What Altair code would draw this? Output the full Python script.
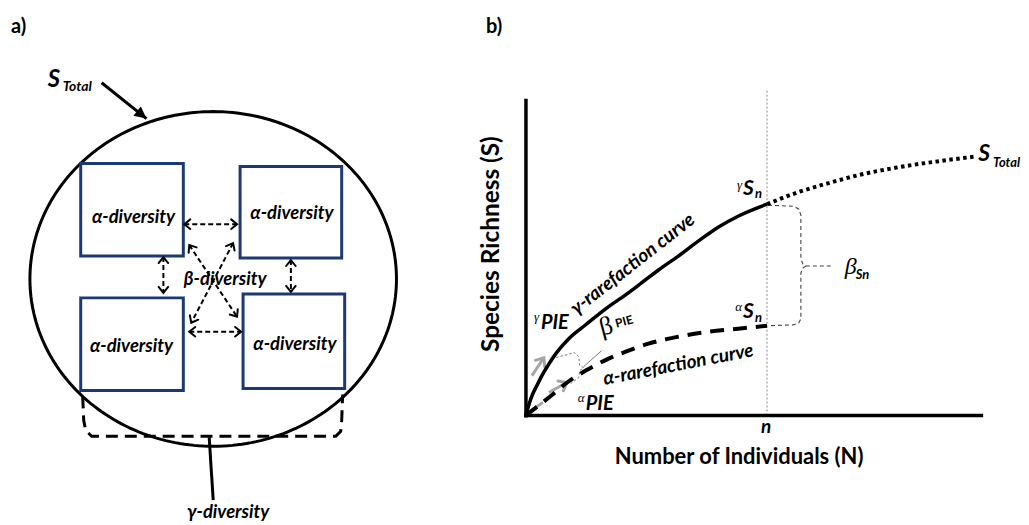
import numpy as np
import pandas as pd
import altair as alt

SANS = "Lato"
SERIF = "Liberation Serif"
NAVY = "#1B3A75"
GREY = "#A6A6A6"

# ======================= panel a : diagram units (circle centred on 0,0) =======================
circle_rx = 184
circle_ry = 168

box_x1 = [-133, 27, -133, 30]
box_x2 = [-30, 129, -30, 132]
box_y1 = [23, 21, -112, -110]
box_y2 = [116, 113, -19, -15]
alpha_lab_x = [-80, 79, -82, 82]
alpha_lab_y = [62, 66, -67, -65]

# dashed double arrows between the plots (start x, start y, end x, end y)
arr_x1 = [-29, -24, -50, 78, -24, 20]
arr_y1 = [55, -53, 22, 19, 34, 36]
arr_x2 = [24, 28, -50, 78, 24, -22]
arr_y2 = [55, -53, -14, -13, -38, -44]

# arrow pointing at the circle (S_Total)
stot_arrow_x = [-112, -67]
stot_arrow_y = [197, 161]

# gamma dashed outline and its leader
gbox_x = [-131, -130, -128, -122, 123, 128, 129, 130]
gbox_y = [-118, -142, -152, -158, -158, -153, -142, -116]
glead_x = [-4, 0]
glead_y = [-159, -222]

# ======================= panel b : N individuals / S species =======================
axis_N = [0, 459]
axis_S = [0, 318]
n_value = 242
n_line_top = 328

gamma_N = [0, 3, 7, 11, 16, 22, 30, 43, 60, 80, 100, 116, 133, 153, 173, 193, 213, 242]
gamma_S = [0, 11, 22, 30, 40, 50, 62, 77, 91, 107, 121, 133, 146, 160, 175, 189, 200, 212]

extrap_N = [242, 273, 303, 333, 373, 413, 452]
extrap_S = [212, 224, 233, 241, 249, 255, 260]

alpha_N = [0, 13, 28, 40, 60, 83, 103, 123, 153, 183, 213, 242]
alpha_S = [0, 10, 22, 32, 45, 57, 65, 72, 79, 84, 87, 90]

beta_sn_N = [243, 269, 274, 276, 276, 278, 281, 278, 276, 276, 274, 269, 243]
beta_sn_S = [211, 210, 207, 201, 157, 152, 150, 148, 143, 97, 93, 91, 90]
beta_sn_tick_N = [281, 306]
beta_sn_tick_S = [150, 150]

beta_pie_N = [26, 49, 53, 54, 58, 54, 53, 45]
beta_pie_S = [57, 63, 59, 50, 48, 45, 38, 32]
beta_pie_lead_N = [58, 76]
beta_pie_lead_S = [49, 65]

grey_arrow_N1 = [6, 18]
grey_arrow_S1 = [40, 58]
grey_arrow_N2 = [23, 41]
grey_arrow_S2 = [23, 33]
grey_tail_N = [2, 17]
grey_tail_S = [3, 13]

# ======================= helpers =======================
XA = alt.Scale(domain=[-205, 265], nice=False, zero=False)
YA = alt.Scale(domain=[-239, 270], nice=False, zero=False)
XB = alt.Scale(domain=[-49, 494], nice=False, zero=False)
YB = alt.Scale(domain=[-102, 407], nice=False, zero=False)


def enc(panel):
    if panel == "a":
        return alt.X("x:Q", scale=XA, axis=None), alt.Y("y:Q", scale=YA, axis=None)
    return alt.X("x:Q", scale=XB, axis=None), alt.Y("y:Q", scale=YB, axis=None)


def path(panel, segs, **mk):
    rows = []
    for k, (xs, ys) in enumerate(segs):
        for i, (xv, yv) in enumerate(zip(xs, ys)):
            rows.append({"x": float(xv), "y": float(yv), "i": i, "seg": k})
    X, Y = enc(panel)
    return alt.Chart(pd.DataFrame(rows)).mark_line(**mk).encode(
        x=X, y=Y, order="i:Q", detail="seg:N")


def text(panel, xs, ys, labels, size, weight="bold", style="italic", font=SANS,
         align="center", baseline="middle", angle=0, color="black"):
    X, Y = enc(panel)
    df = pd.DataFrame({"x": xs, "y": ys, "t": labels})
    return alt.Chart(df).mark_text(
        font=font, fontSize=size, fontWeight=weight, fontStyle=style,
        align=align, baseline=baseline, angle=angle, color=color
    ).encode(x=X, y=Y, text="t:N")


CHEV = "M-1,-0.8L0,0L-1,0.8"
TRI = "M0,0L-1,-0.5L-1,0.5Z"


def heads(panel, shafts, shape, size, color="black", width=2, filled=False, both=False):
    hx, hy, ha = [], [], []
    for xs, ys in shafts:
        ends = [(xs[0], ys[0], xs[1], ys[1])]
        if both:
            ends.append((xs[1], ys[1], xs[0], ys[0]))
        for sx, sy, ex, ey in ends:
            hx.append(ex)
            hy.append(ey)
            ha.append(float(np.degrees(np.arctan2(-(ey - sy), ex - sx)) % 360))
    X, Y = enc(panel)
    df = pd.DataFrame({"x": hx, "y": hy, "ang": ha})
    props = dict(shape=shape, size=size, opacity=1, strokeWidth=width)
    if filled:
        props.update(filled=True, color=color)
    else:
        props.update(filled=False, color=color, strokeCap="round", strokeJoin="miter")
    return alt.Chart(df).mark_point(**props).encode(
        x=X, y=Y, angle=alt.Angle("ang:Q", scale=None))


# ======================= panel a layers =======================
theta = np.linspace(0, 2 * np.pi, 241)
circle_layer = path("a", [(circle_rx * np.cos(theta), circle_ry * np.sin(theta))],
                    color="black", strokeWidth=3)

XA_, YA_ = enc("a")
boxes = alt.Chart(pd.DataFrame({"x": box_x1, "x2": box_x2, "y": box_y1, "y2": box_y2})).mark_rect(
    fill="white", stroke=NAVY, strokeWidth=3
).encode(x=XA_, x2="x2:Q", y=YA_, y2="y2:Q")

arrow_segs = [([a, c], [b, d]) for a, b, c, d in zip(arr_x1, arr_y1, arr_x2, arr_y2)]
arrow_shafts = path("a", arrow_segs, color="black", strokeWidth=2, strokeDash=[5, 3])
arrow_heads = heads("a", arrow_segs, CHEV, 144, width=2, both=True)

stot_shaft = path("a", [(stot_arrow_x, stot_arrow_y)], color="black", strokeWidth=3)
stot_head = heads("a", [(stot_arrow_x, stot_arrow_y)], TRI, 576, filled=True)

gbox = path("a", [(gbox_x, gbox_y)], color="black", strokeWidth=3, strokeDash=[12, 7])
glead = path("a", [(glead_x, glead_y)], color="black", strokeWidth=3)

layers_a = [
    circle_layer, boxes, arrow_shafts, arrow_heads, stot_shaft, stot_head, gbox, glead,
    text("a", alpha_lab_x, alpha_lab_y, ["α-diversity"] * 4, 18.5),
    text("a", [12], [0], ["β-diversity"], 18.5),
    text("a", [15], [-234], ["γ-diversity"], 18.5),
    text("a", [-166], [193], ["S"], 24, align="left", baseline="alphabetic"),
    text("a", [-151], [189], ["Total"], 14, align="left", baseline="alphabetic"),
    text("a", [-203], [247], ["a)"], 20, style="normal", align="left", baseline="alphabetic"),
]
panel_a = alt.layer(*layers_a).properties(width=470, height=509)

# ======================= panel b layers =======================
axes_b = path("b", [([0, 0], [-2, axis_S[1]]), ([-2, axis_N[1]], [0, 0])],
              color="black", strokeWidth=3.5)
n_line = path("b", [([n_value, n_value], [0, n_line_top])], color="#888888",
              strokeWidth=1, strokeDash=[2, 2])
gamma_curve = path("b", [(gamma_N, gamma_S)], color="black", strokeWidth=3.5,
                   interpolate="monotone")
extrap_curve = path("b", [(extrap_N, extrap_S)], color="black", strokeWidth=4,
                    strokeDash=[3.5, 3.5], interpolate="monotone")
alpha_curve = path("b", [(alpha_N, alpha_S)], color="black", strokeWidth=4,
                   strokeDash=[14, 9], interpolate="monotone")
beta_sn = path("b", [(beta_sn_N, beta_sn_S), (beta_sn_tick_N, beta_sn_tick_S)],
               color="#444444", strokeWidth=1.1, strokeDash=[4, 3])
beta_pie = path("b", [(beta_pie_N, beta_pie_S)], color="#777777", strokeWidth=1,
                strokeDash=[2.5, 2])
beta_pie_lead = path("b", [(beta_pie_lead_N, beta_pie_lead_S)], color="#777777", strokeWidth=1)
grey_segs = [(grey_arrow_N1, grey_arrow_S1), (grey_arrow_N2, grey_arrow_S2)]
grey_shafts = path("b", grey_segs + [(grey_tail_N, grey_tail_S)], color=GREY, strokeWidth=3)
grey_heads = heads("b", grey_segs, CHEV, 196, color=GREY, width=3)

layers_b = [
    n_line, beta_sn, beta_pie, beta_pie_lead, grey_shafts, grey_heads,
    gamma_curve, extrap_curve, alpha_curve, axes_b,
    text("b", [-40], [384], ["b)"], 20, style="normal", align="left", baseline="alphabetic"),
    text("b", [-34], [172], ["Species Richness (S)"], 24.5, style="normal", angle=270),
    text("b", [214], [-42], ["Number of Individuals (N)"], 22, style="normal"),
    text("b", [241], [-12], ["n"], 19),
    text("b", [107], [152], ["γ-rarefaction curve"], 19, angle=322),
    text("b", [153], [51], ["α-rarefaction curve"], 19, angle=349),
    # gamma S_n
    text("b", [212], [227], ["γ"], 13, weight="normal", font=SERIF, align="left", baseline="alphabetic"),
    text("b", [218], [221], ["S"], 21, align="left", baseline="alphabetic"),
    text("b", [230], [218], ["n"], 13, align="left", baseline="alphabetic"),
    # alpha S_n
    text("b", [210], [105], ["α"], 13, weight="normal", font=SERIF, align="left", baseline="alphabetic"),
    text("b", [218], [98], ["S"], 21, align="left", baseline="alphabetic"),
    text("b", [230], [94], ["n"], 13, align="left", baseline="alphabetic"),
    # S_Total
    text("b", [454], [255], ["S"], 23, align="left", baseline="alphabetic"),
    text("b", [469], [249], ["Total"], 13, align="left", baseline="alphabetic"),
    # beta S_n
    text("b", [320], [142], ["β"], 24, weight="normal", font=SERIF, align="left", baseline="alphabetic"),
    text("b", [331], [137], ["Sn"], 13, align="left", baseline="alphabetic"),
    # gamma PIE / alpha PIE
    text("b", [8], [95], ["γ"], 13, weight="normal", font=SERIF, align="left", baseline="alphabetic"),
    text("b", [15], [87], ["PIE"], 20, align="left", baseline="alphabetic"),
    text("b", [52], [13], ["α"], 13, weight="normal", font=SERIF, align="left", baseline="alphabetic"),
    text("b", [60], [5], ["PIE"], 20, align="left", baseline="alphabetic"),
    # beta PIE
    text("b", [76], [80], ["β"], 26, weight="normal", style="normal", font=SERIF,
         align="left", baseline="alphabetic", angle=345),
    text("b", [91], [88], ["PIE"], 12, style="normal", align="left", baseline="alphabetic", angle=345),
]
panel_b = alt.layer(*layers_b).properties(width=543, height=509)

chart = alt.hconcat(panel_a, panel_b, spacing=0, bounds="flush").properties(
    padding=0
).configure_view(stroke="transparent")

chart.save("out.html", embed_options={"renderer": "svg", "actions": False})
